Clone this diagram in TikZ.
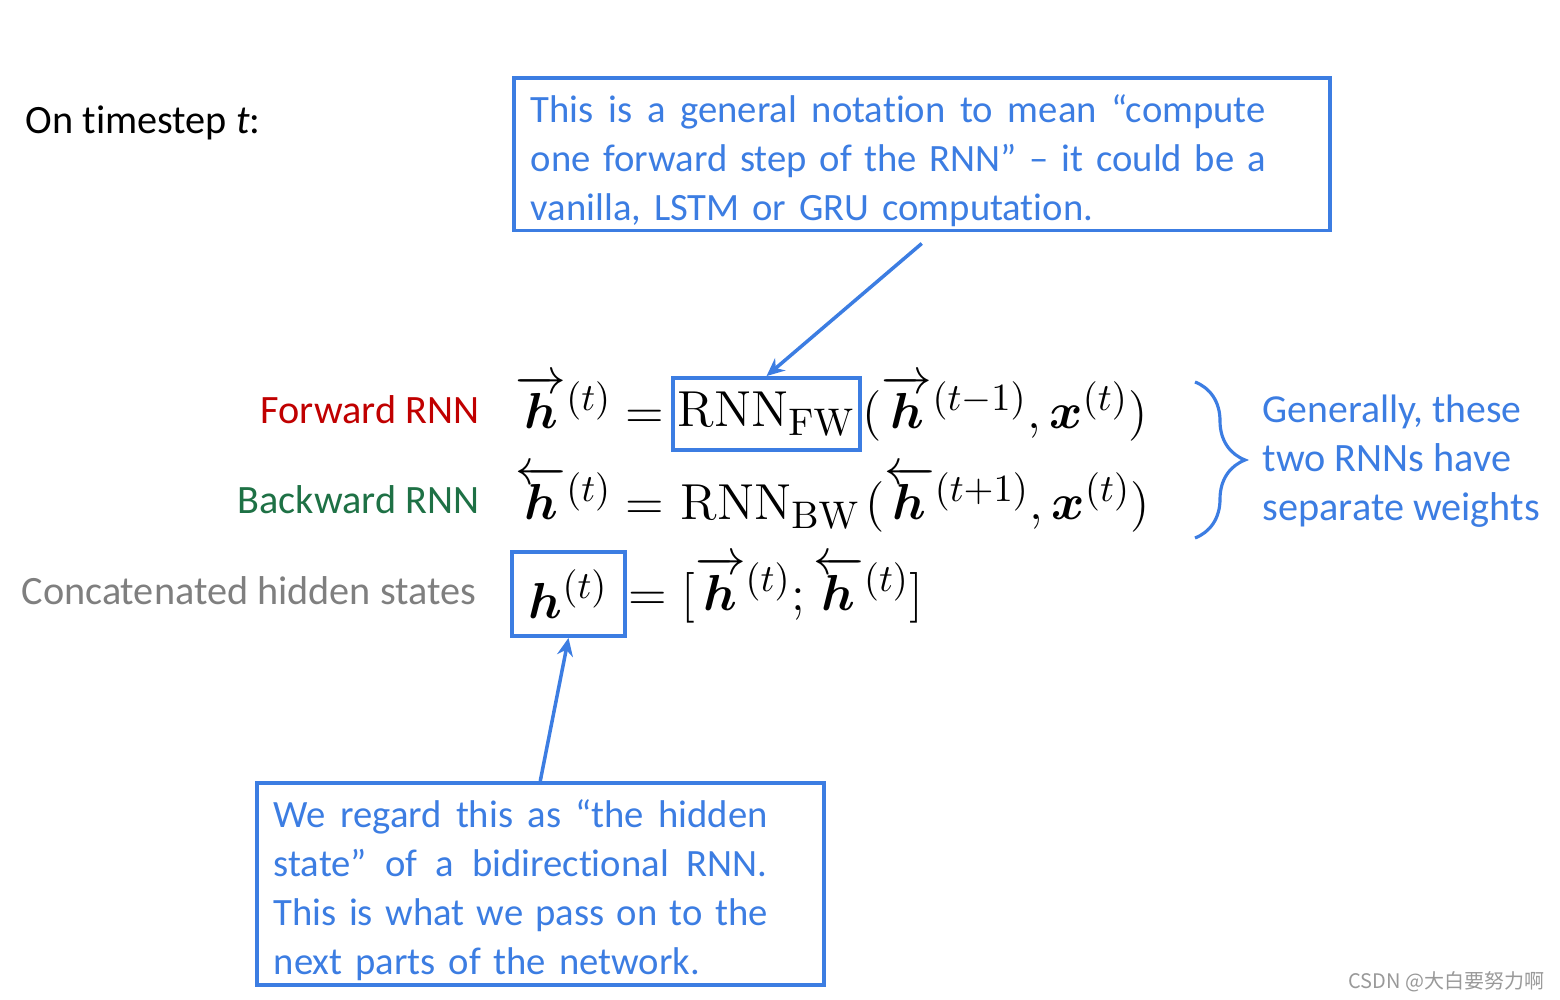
\documentclass[tikz,border=0pt]{standalone}
\usepackage{amsmath}
\usepackage[no-math]{fontspec}
\setmainfont{Carlito}[Ligatures=NoCommon]
\newfontfamily\cjkFont{Noto Sans CJK SC}
\usetikzlibrary{arrows.meta,positioning,decorations.pathreplacing}
\definecolor{noteBlue}{HTML}{3C7DE2}
\definecolor{fwRed}{HTML}{C00000}
\definecolor{bwGreen}{HTML}{1E7145}
\definecolor{catGrey}{HTML}{7F7F7F}
\DeclareMathSizes{14.5}{14.5}{11.2}{8.5}
\newcommand\labelSize{\fontsize{11.45}{13.94}\selectfont}
\newcommand\noteSize{\fontsize{11}{13.94}\selectfont}
\newcommand\mathSize{\fontsize{14.5}{17}\selectfont}
\newcommand\topStrut{\rule{0pt}{0.45cm}}
\newcommand\botStrut{\rule[-0.10cm]{0pt}{0pt}}
\newcommand\jLine[2]{\makebox[#1][s]{\spaceskip=0pt\relax #2}} % justified line
\begin{document}
\begin{tikzpicture}[
    noteBox/.style={draw=noteBlue, line width=1pt, text=noteBlue, font=\noteSize, align=left, inner xsep=0.17cm, inner ysep=0pt},
    hiBox/.style={draw=noteBlue, line width=1.1pt, inner sep=0pt},
    rowLabel/.style={font=\labelSize, anchor=base east, inner sep=0pt},
    eqPart/.style={font=\mathSize, inner sep=0pt},
    noteArrow/.style={noteBlue, line width=1pt, -{Stealth[length=0.18cm,width=0.16cm]}}
  ]
  \useasboundingbox (0,0) rectangle (15.6,-10);
  \def\fwY{-4.29} % baselines of the three rows
  \def\bwY{-5.20}
  \def\catY{-6.10}
  \node[font=\labelSize, anchor=base west, inner sep=0pt] (title) at (0.25,-1.34) {On timestep \textit{t}:};
  % note boxes
  \node[noteBox, anchor=north west, text width=7.82cm] (noteFw) at (5.12,-0.76)
    {\topStrut\jLine{7.35cm}{This is a general notation to mean “compute}\\
     \jLine{7.35cm}{one forward step of the RNN” – it could be a}\\
     vanilla, LSTM or GRU computation.\botStrut};
  \node[noteBox, anchor=north west, text width=5.33cm] (noteCat) at (2.55,-7.81)
    {\topStrut\jLine{4.94cm}{We regard this as “the hidden}\\
     \jLine{4.94cm}{state” of a bidirectional RNN.}\\
     \jLine{4.94cm}{This is what we pass on to the}\\
     next parts of the network.\botStrut};
  % row labels
  \node[rowLabel, text=fwRed] (fwLabel) at (4.80,\fwY+0.05) {Forward RNN};
  \node[rowLabel, text=bwGreen] (bwLabel) at (4.80,\bwY+0.06) {Backward RNN};
  \node[rowLabel, text=catGrey] (catLabel) at (4.77,\catY+0.05) {Concatenated hidden states};
  % forward row
  \node[eqPart, anchor=base west] (fwLhs) at (5.15,\fwY) {$\overrightarrow{\boldsymbol h}^{(t)} =$};
  \node[hiBox, minimum width=1.87cm, minimum height=0.72cm] (rnnFw) at (7.665,-4.14) {\mathSize$\mathrm{RNN}_{\mathrm{FW}}$};
  \node[eqPart, anchor=base west] (fwRhs) at (8.62,\fwY) {$(\overrightarrow{\boldsymbol h}^{(t-1)}, \boldsymbol x^{(t)})$};
  % backward row
  \node[eqPart, anchor=base west] (bwLhs) at (5.15,\bwY) {$\overleftarrow{\boldsymbol h}^{(t)} =$};
  \node[eqPart, anchor=base west] (rnnBw) at (6.80,\bwY) {$\mathrm{RNN}_{\mathrm{BW}}$};
  \node[eqPart, anchor=base west] (bwRhs) at ([xshift=0.03cm]rnnBw.base east) {$(\overleftarrow{\boldsymbol h}^{(t+1)}, \boldsymbol x^{(t)})$};
  % concatenation row
  \node[hiBox, minimum width=1.13cm, minimum height=0.84cm] (hCat) at (5.685,-5.94) {\mathSize$\boldsymbol h^{(t)}$};
  \node[eqPart, anchor=base west] (catRhs) at (6.28,\catY) {$= [\overrightarrow{\boldsymbol h}^{(t)}; \overleftarrow{\boldsymbol h}^{(t)}]$};
  % brace and its note
  \coordinate (braceTop) at (11.95,-3.82);
  \coordinate (braceBot) at (11.95,-5.38);
  \draw[noteBlue, line width=0.9pt, decorate, decoration={brace, amplitude=0.5cm}] (braceTop) -- (braceBot);
  \node[font=\labelSize, text=noteBlue, align=left, anchor=north west, inner sep=0pt] (noteW) at (12.62,-3.94)
    {\fontsize{11.3}{13.94}\selectfont Generally, these\\two RNNs have\\separate weights};
  % arrows
  \draw[noteArrow] ([yshift=-0.11cm]noteFw.south) -- (rnnFw.north);
  \draw[noteArrow] (noteCat.north) -- (hCat.south);
  \node[font=\cjkFont\fontsize{5.7}{7}\selectfont, text=black!40, anchor=base east, inner sep=0pt] (mark) at (15.45,-9.88) {CSDN @大白要努力啊};
\end{tikzpicture}
\end{document}
